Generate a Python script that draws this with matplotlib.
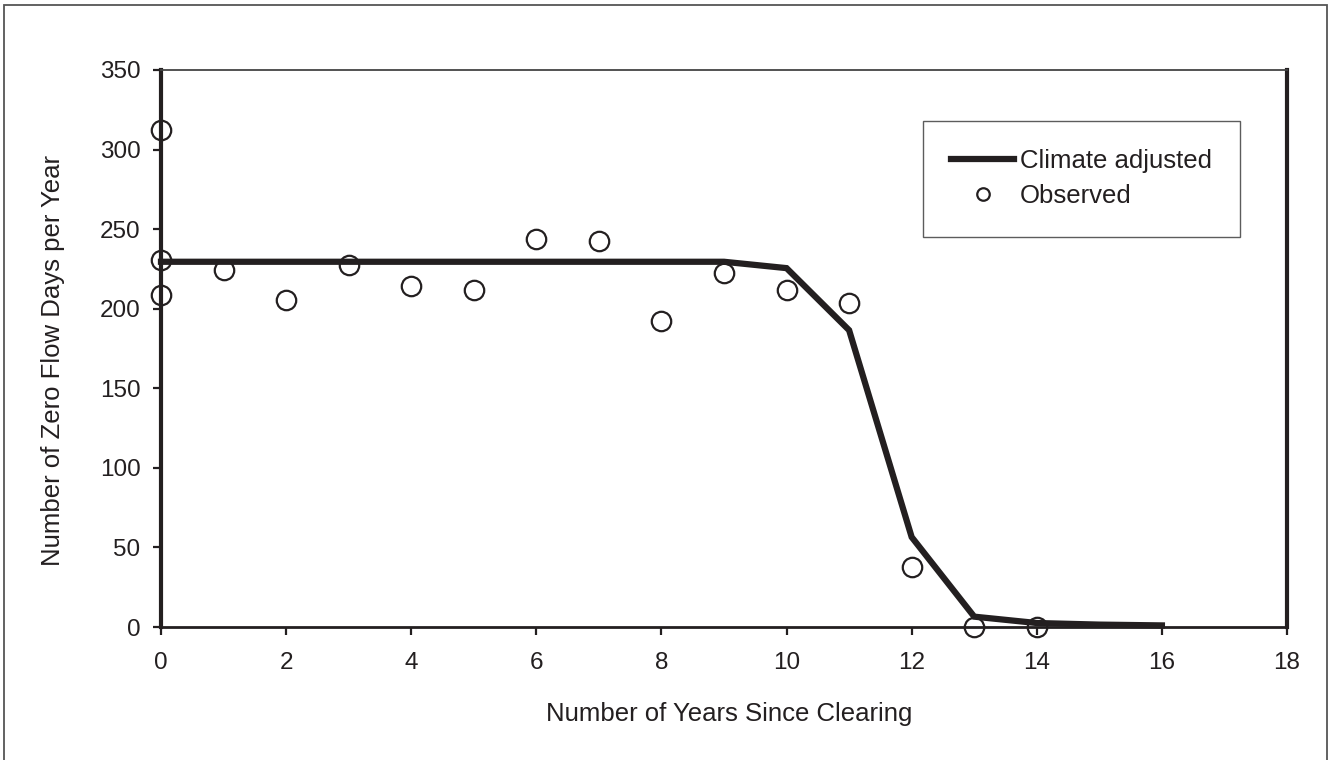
import matplotlib
matplotlib.use("Agg")
import matplotlib.pyplot as plt
from matplotlib.lines import Line2D
from matplotlib.patches import Rectangle

plt.rcParams['font.family'] = ['Liberation Sans', 'DejaVu Sans']

# Data
line_years = [0, 1, 2, 3, 4, 5, 6, 7, 8, 9, 10, 11, 12, 13, 14, 15, 16]
climate_adjusted = [229.5, 229.5, 229.5, 229.5, 229.5, 229.5, 229.5, 229.5, 229.5, 229.5,
                    225.5, 186.5, 56.5, 6.5, 2.5, 1.5, 1.0]
obs_years = [0, 0, 0, 1, 2, 3, 4, 5, 6, 7, 8, 9, 10, 11, 12, 13, 14]
observed = [312.5, 230.5, 208.5, 224.5, 205.5, 227.5, 214.5, 211.5, 243.5, 242.5,
            192.5, 222.5, 211.5, 203.5, 37.5, 0, 0]
x_ticks = list(range(0, 19, 2))
y_ticks = list(range(0, 351, 50))

ink = '#231f20'
W, H = 1335, 760

fig = plt.figure(figsize=(W / 100, H / 100), dpi=100)
ax = fig.add_axes([161 / W, 1 - 627 / H, (1287 - 161) / W, (627 - 70) / H])

# Figure frame (open at the bottom edge)
fig.patches.append(Rectangle((4 / W, -0.05), (1327 - 4) / W, 1.05 - 5 / H,
                             transform=fig.transFigure, fill=False,
                             edgecolor='#555555', linewidth=1.3))

ax.plot(line_years, climate_adjusted, color=ink, linewidth=4.5,
        solid_joinstyle='miter', zorder=3, clip_on=False)
ax.plot(obs_years, observed, linestyle='none', marker='o', markersize=14,
        markerfacecolor='none', markeredgecolor=ink, markeredgewidth=1.6,
        zorder=4, clip_on=False)

ax.set_xlim(0, 18)
ax.set_ylim(0, 350)
ax.set_xticks(x_ticks)
ax.set_yticks(y_ticks)
ax.tick_params(axis='both', direction='out', length=5.8, width=1.6, color=ink,
               labelsize=17.5, labelcolor=ink)
ax.tick_params(axis='x', pad=12)
ax.tick_params(axis='y', pad=9)

ax.spines['left'].set_linewidth(3.0)
ax.spines['right'].set_linewidth(3.0)
ax.spines['bottom'].set_linewidth(2.0)
ax.spines['top'].set_linewidth(1.3)
for s in ax.spines.values():
    s.set_color(ink)
ax.spines['top'].set_color('#444444')

ax.set_xlabel('Number of Years Since Clearing', fontsize=18.5, color=ink, va='center')
ax.xaxis.set_label_coords((729 - 161) / 1126, (627 - 714) / 557)
ax.set_ylabel('Number of Zero Flow Days per Year', fontsize=18.5, color=ink, va='center')
ax.yaxis.set_label_coords((53 - 161) / 1126, (627 - 361) / 557)

handles = [Line2D([], [], color=ink, linewidth=4.5),
           Line2D([], [], linestyle='none', marker='o', markersize=9,
                  markerfacecolor='none', markeredgecolor=ink, markeredgewidth=1.6)]
leg = ax.legend(handles, ['Climate adjusted', 'Observed'],
                loc='upper left', bbox_to_anchor=(923 / W, 1 - 121 / H),
                bbox_transform=fig.transFigure, fontsize=18.5, frameon=True,
                fancybox=False, edgecolor='#333333', borderpad=1.1,
                handlelength=2.45, handletextpad=0.23, labelspacing=0.43,
                borderaxespad=0)
leg.get_frame().set_linewidth(1.0)
for t in leg.get_texts():
    t.set_color(ink)

fig.savefig('out.png', dpi=100)
